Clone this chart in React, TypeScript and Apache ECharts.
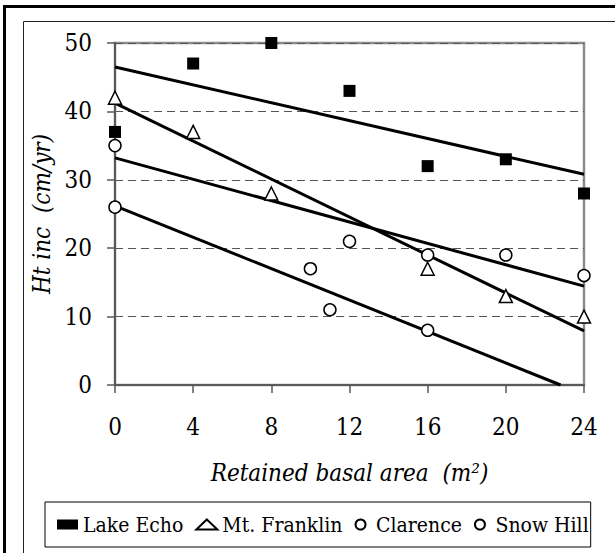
import React, { useEffect, useRef } from "react";
import * as echarts from "echarts";

// Observations (x = retained basal area, y = height increment)
const lakeEchoX = [0, 4, 8, 12, 16, 20, 24];
const lakeEchoY = [37, 47, 50, 43, 32, 33, 28];
const mtFranklinX = [0, 4, 8, 16, 20, 24];
const mtFranklinY = [42, 37, 28, 17, 13, 10];
const clarenceX = [0, 12, 16, 20, 24];
const clarenceY = [35, 21, 19, 19, 16];
const snowHillX = [0, 10, 11, 16];
const snowHillY = [26, 17, 11, 8];

// Linear trend lines (end points)
const trendX = [0, 24];
const lakeEchoTrendY = [46.5, 30.8];
const mtFranklinTrendY = [41.2, 7.9];
const clarenceTrendY = [33.2, 14.45];
const snowHillTrendX = [0, 22.8];
const snowHillTrendY = [26.2, 0];

const seriesNames = ["Lake Echo", "Mt. Franklin", "Clarence", "Snow Hill"];

const SERIF = "DejaVu Serif Condensed, DejaVu Serif";

const zip = (xs: number[], ys: number[]) => xs.map((x, i) => [x, ys[i]]);

export default function App() {
  const ref = useRef<HTMLDivElement>(null);

  useEffect(() => {
    if (!ref.current) return;
    const chart = echarts.init(ref.current, null, { renderer: "svg" });

    const trend = (name: string, xs: number[], ys: number[]) => ({
      name: name + " trend",
      type: "line",
      data: zip(xs, ys),
      symbol: "none",
      silent: true,
      clip: true,
      z: 3,
      lineStyle: { color: "#000", width: 3 },
    });

    const scatter = (name: string, xs: number[], ys: number[], symbol: string, size: number, filled: boolean) => ({
      name,
      type: "scatter",
      data: zip(xs, ys),
      symbol,
      symbolSize: size,
      symbolKeepAspect: true,
      z: 5,
      itemStyle: {
        color: filled ? "#000" : "#fff",
        borderColor: "#000",
        borderWidth: filled ? 0 : 1.5,
        opacity: 1,
      },
    });

    chart.setOption({
      animation: false,
      backgroundColor: "#fff",
      textStyle: { fontFamily: SERIF },
      graphic: [
        {
          type: "rect",
          shape: { x: 4.5, y: 6.5, width: 700, height: 700 },
          style: { fill: "none", stroke: "#000", lineWidth: 3 },
          silent: true,
        },
        {
          type: "rect",
          shape: { x: 23.5, y: 21.5, width: 700, height: 700 },
          style: { fill: "none", stroke: "#222", lineWidth: 1 },
          silent: true,
        },
      ],
      grid: {
        left: 115,
        right: 31,
        top: 43,
        bottom: 168,
        show: true,
        borderColor: "#8c8c8c",
        borderWidth: 2.5,
        backgroundColor: "transparent",
      },
      legend: {
        data: [
          { name: seriesNames[0], icon: "rect" },
          { name: seriesNames[1], icon: "triangle" },
          { name: seriesNames[2], icon: "circle" },
          { name: seriesNames[3], icon: "circle" },
        ],
        left: 45,
        top: 502,
        orient: "horizontal",
        itemWidth: 21,
        itemHeight: 10,
        itemGap: 12,
        padding: [12, 2, 12, 12],
        borderColor: "#000",
        borderWidth: 1,
        backgroundColor: "#fff",
        textStyle: { color: "#000", fontFamily: SERIF, fontSize: 21 },
      },
      xAxis: {
        type: "value",
        min: 0,
        max: 24,
        interval: 4,
        name: "Retained basal area  (m²)",
        nameLocation: "middle",
        nameGap: 76,
        nameTextStyle: { fontFamily: SERIF, fontStyle: "italic", fontSize: 24, color: "#000" },
        axisLine: { show: true, lineStyle: { color: "#595959", width: 2 } },
        axisTick: { show: true, inside: false, length: 8, lineStyle: { color: "#595959", width: 1.5 } },
        axisLabel: { margin: 30, fontFamily: SERIF, fontSize: 24, color: "#000" },
        splitLine: { show: false },
      },
      yAxis: {
        type: "value",
        min: 0,
        max: 50,
        interval: 10,
        name: "Ht inc  (cm/yr)",
        nameLocation: "middle",
        nameRotate: 90,
        nameGap: 61,
        nameTextStyle: { fontFamily: SERIF, fontStyle: "italic", fontSize: 24, color: "#000" },
        axisLine: { show: true, lineStyle: { color: "#595959", width: 2 } },
        axisTick: { show: true, inside: false, length: 8, lineStyle: { color: "#595959", width: 1.5 } },
        axisLabel: { margin: 23, fontFamily: SERIF, fontSize: 24, color: "#000" },
        splitLine: { show: true, lineStyle: { color: "#555", width: 1, type: [8, 5] } },
      },
      series: [
        trend(seriesNames[0], trendX, lakeEchoTrendY),
        trend(seriesNames[1], trendX, mtFranklinTrendY),
        trend(seriesNames[2], trendX, clarenceTrendY),
        trend(seriesNames[3], snowHillTrendX, snowHillTrendY),
        scatter(seriesNames[0], lakeEchoX, lakeEchoY, "rect", 12, true),
        scatter(seriesNames[1], mtFranklinX, mtFranklinY, "triangle", 13, false),
        scatter(seriesNames[2], clarenceX, clarenceY, "circle", 12, false),
        scatter(seriesNames[3], snowHillX, snowHillY, "circle", 12, false),
      ],
    });

    return () => chart.dispose();
  }, []);

  return (
    <div
      ref={ref}
      style={{ position: "fixed", left: 0, top: 0, width: 615, height: 553, background: "#fff" }}
    />
  );
}
